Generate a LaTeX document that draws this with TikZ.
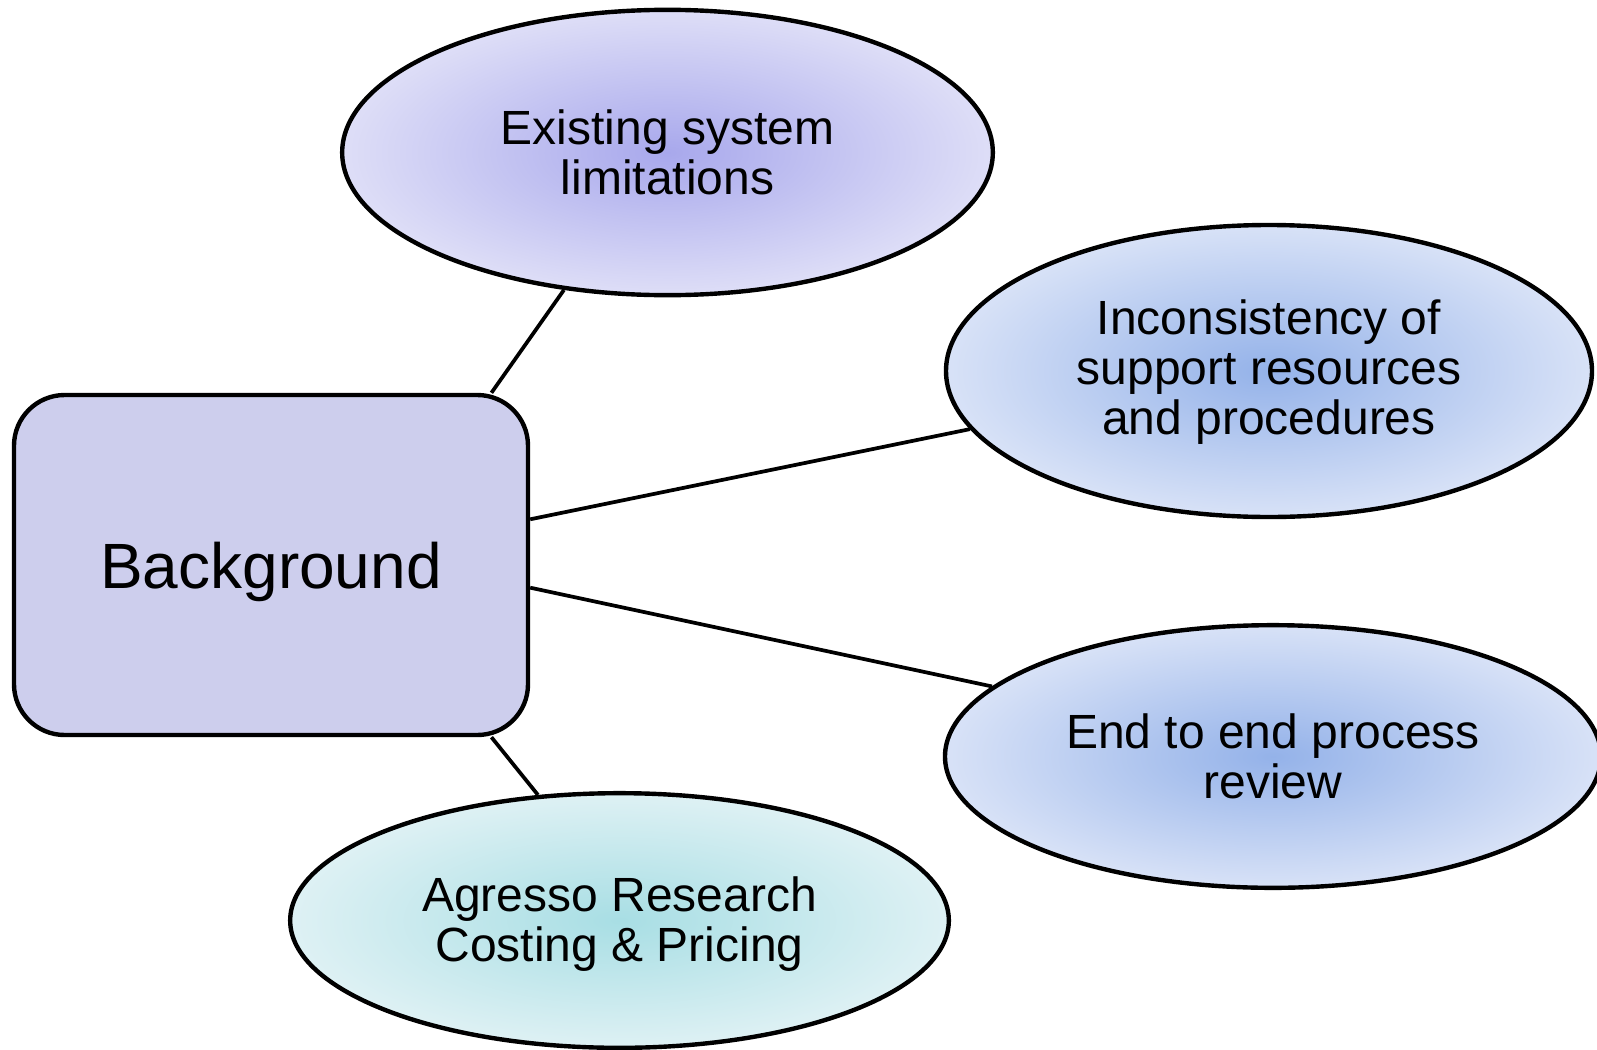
\documentclass[tikz,border=0pt]{standalone}
\usepackage{fontspec}
\setmainfont{Liberation Sans}
\usetikzlibrary{shapes.geometric}
\definecolor{boxfill}{RGB}{205,206,237}
\definecolor{eAin}{RGB}{168,168,236}
\definecolor{eAout}{RGB}{222,222,247}
\definecolor{eBin}{RGB}{148,178,233}
\definecolor{eBout}{RGB}{216,226,247}
\definecolor{eCin}{RGB}{168,222,228}
\definecolor{eCout}{RGB}{222,241,244}
\newcommand{\lowered}[2]{\raisebox{#1}[\height][\depth]{\begin{tabular}{@{}c@{}}#2\end{tabular}}}
\tikzset{
  bubble/.style={ellipse, draw=black, line width=3.3pt, inner sep=0pt,
    align=center, font=\fontsize{36}{37.5}\selectfont},
  hub/.style={rectangle, rounded corners=38pt, draw=black, line width=3.3pt,
    fill=boxfill, inner sep=0pt, minimum width=385.5pt, minimum height=255pt,
    font=\fontsize{48}{50}\selectfont},
  link/.style={line width=2.8pt, draw=black}
}
\begin{document}
\begin{tikzpicture}[x=0.75pt,y=-0.75pt]
\useasboundingbox (0,0) rectangle (1597,1050);
\node[hub] (bg) at (271,565) {\raisebox{-5.5pt}[\height][\depth]{Background}};
\node[bubble, inner color=eAin, outer color=eAout, minimum width=488pt, minimum height=214pt] (e1) at (667.5,152.5) {Existing system\\limitations};
\node[bubble, inner color=eBin, outer color=eBout, minimum width=484.5pt, minimum height=219pt] (e2) at (1269,371) {\lowered{-2.5pt}{Inconsistency of\\support resources\\and procedures}};
\node[bubble, inner color=eBin, outer color=eBout, minimum width=492pt, minimum height=197pt] (e3) at (1273,756.5) {End to end process\\review};
\node[bubble, inner color=eCin, outer color=eCout, minimum width=494pt, minimum height=191pt] (e4) at (619.5,920.5) {\lowered{-4.5pt}{Agresso Research\\Costing \& Pricing}};
\draw[link] (bg.38.5) -- (e1.233.5);
\draw[link] (bg.10.6) -- (e2.191.3);
\draw[link] (bg.355.8) -- (e3.166.8);
\draw[link] (bg.322.8) -- (e4.123);
\end{tikzpicture}
\end{document}
